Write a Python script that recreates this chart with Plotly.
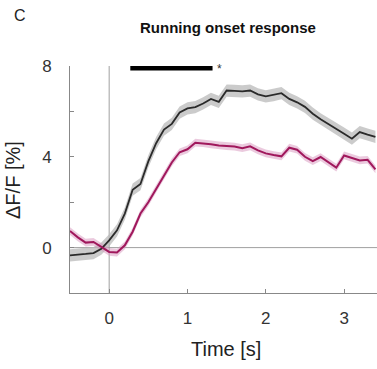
import plotly.graph_objects as go

# Data
time = [-0.5, -0.4, -0.3, -0.2, -0.1, 0.0, 0.1, 0.2, 0.3, 0.4, 0.5, 0.6, 0.7, 0.8, 0.9,
        1.0, 1.1, 1.2, 1.3, 1.4, 1.5, 1.6, 1.7, 1.8, 1.9, 2.0, 2.1, 2.2, 2.3, 2.4,
        2.5, 2.6, 2.7, 2.8, 2.9, 3.0, 3.1, 3.2, 3.3, 3.4]
black_mean = [-0.34, -0.32, -0.28, -0.24, -0.05, 0.32, 0.76, 1.5, 2.55, 2.8, 3.8, 4.6, 5.2, 5.45, 5.95,
              6.13, 6.19, 6.35, 6.55, 6.42, 6.92, 6.9, 6.88, 6.92, 6.75, 6.66, 6.72, 6.8, 6.55, 6.4,
              6.2, 5.9, 5.65, 5.45, 5.22, 5.02, 4.8, 5.09, 4.98, 4.88]
black_sem = [0.27] * len(time)
pink_mean = [0.73, 0.45, 0.22, 0.25, 0.03, -0.19, -0.22, 0.1, 0.7, 1.5, 2.0, 2.6, 3.2, 3.75, 4.2,
             4.33, 4.62, 4.6, 4.55, 4.5, 4.47, 4.45, 4.38, 4.46, 4.28, 4.15, 4.08, 4.02, 4.4, 4.31,
             4.0, 3.81, 3.99, 3.75, 3.52, 4.06, 3.95, 3.84, 3.87, 3.45]
pink_sem = [0.17] * len(time)
sig_bar = [0.27, 1.32]
sig_y = 7.9
y_ticks = [0, 2, 4, 6, 8]
y_tick_labels = ["0", "", "4", "", "8"]
x_ticks = [0, 1, 2, 3]

FONT = "Arial, Liberation Sans, sans-serif"
W, H = 377, 369
L, R, T, B = 70, 0, 66, 76

fig = go.Figure()


def band(mean, sem, fill):
    upper = [m + s for m, s in zip(mean, sem)]
    lower = [m - s for m, s in zip(mean, sem)]
    fig.add_trace(go.Scatter(x=time + time[::-1], y=upper + lower[::-1], fill="toself",
                             fillcolor=fill, line=dict(width=0), mode="lines",
                             hoverinfo="skip", showlegend=False))


band(black_mean, black_sem, "rgba(185,185,185,0.75)")
band(pink_mean, pink_sem, "rgba(215,150,190,0.5)")
fig.add_trace(go.Scatter(x=time, y=black_mean, mode="lines",
                         line=dict(color="#2a2a2a", width=1.8), showlegend=False))
fig.add_trace(go.Scatter(x=time, y=pink_mean, mode="lines",
                         line=dict(color="#a0185c", width=2), showlegend=False))

# zero lines
fig.add_shape(type="line", xref="x", yref="paper", x0=0, x1=0, y0=0, y1=1,
              line=dict(color="#a0a0a0", width=1), layer="below")
fig.add_shape(type="line", xref="paper", yref="y", x0=0, x1=1, y0=0, y1=0,
              line=dict(color="#a0a0a0", width=1), layer="below")

# significance bar
fig.add_trace(go.Scatter(x=sig_bar, y=[sig_y, sig_y], mode="lines",
                         line=dict(color="black", width=4.5), showlegend=False))
fig.add_annotation(x=sig_bar[1] + 0.09, y=sig_y - 0.05, text="*", showarrow=False,
                   xanchor="center", yanchor="middle",
                   font=dict(family=FONT, size=12, color="#333"))

fig.update_xaxes(range=[-0.5, 3.42], tickvals=x_ticks, ticks="inside", ticklen=4,
                 tickcolor="#888", showline=True, linecolor="#888", linewidth=1,
                 showgrid=False, zeroline=False, ticklabelstandoff=10,
                 tickfont=dict(family=FONT, size=17, color="#333"))
fig.update_yaxes(range=[-2, 8], tickvals=y_ticks, ticktext=y_tick_labels, ticks="inside",
                 ticklen=4, tickcolor="#888", showline=True, linecolor="#888", linewidth=1,
                 showgrid=False, zeroline=False, ticklabelstandoff=14,
                 tickfont=dict(family=FONT, size=17, color="#333"))

pw, ph = W - L - R, H - T - B


def px(x):
    return (x - L) / pw


def py(y):
    return (H - B - y) / ph


def label(x, y, text, size, color="#222", angle=0):
    fig.add_annotation(xref="paper", yref="paper", x=px(x), y=py(y), text=text,
                       xanchor="center", yanchor="middle", textangle=angle,
                       showarrow=False, font=dict(family=FONT, size=size, color=color))


label(228, 27, "<b>Running onset response</b>", 15, "#111")
label(20, 15, "C", 16)
label(226, 349, "Time [s]", 20)
label(13, 180, "ΔF/F [%]", 20, angle=-90)

fig.update_layout(width=W, height=H, margin=dict(l=L, r=R, t=T, b=B),
                  plot_bgcolor="white", paper_bgcolor="white", showlegend=False)

fig.write_html("out.html")
